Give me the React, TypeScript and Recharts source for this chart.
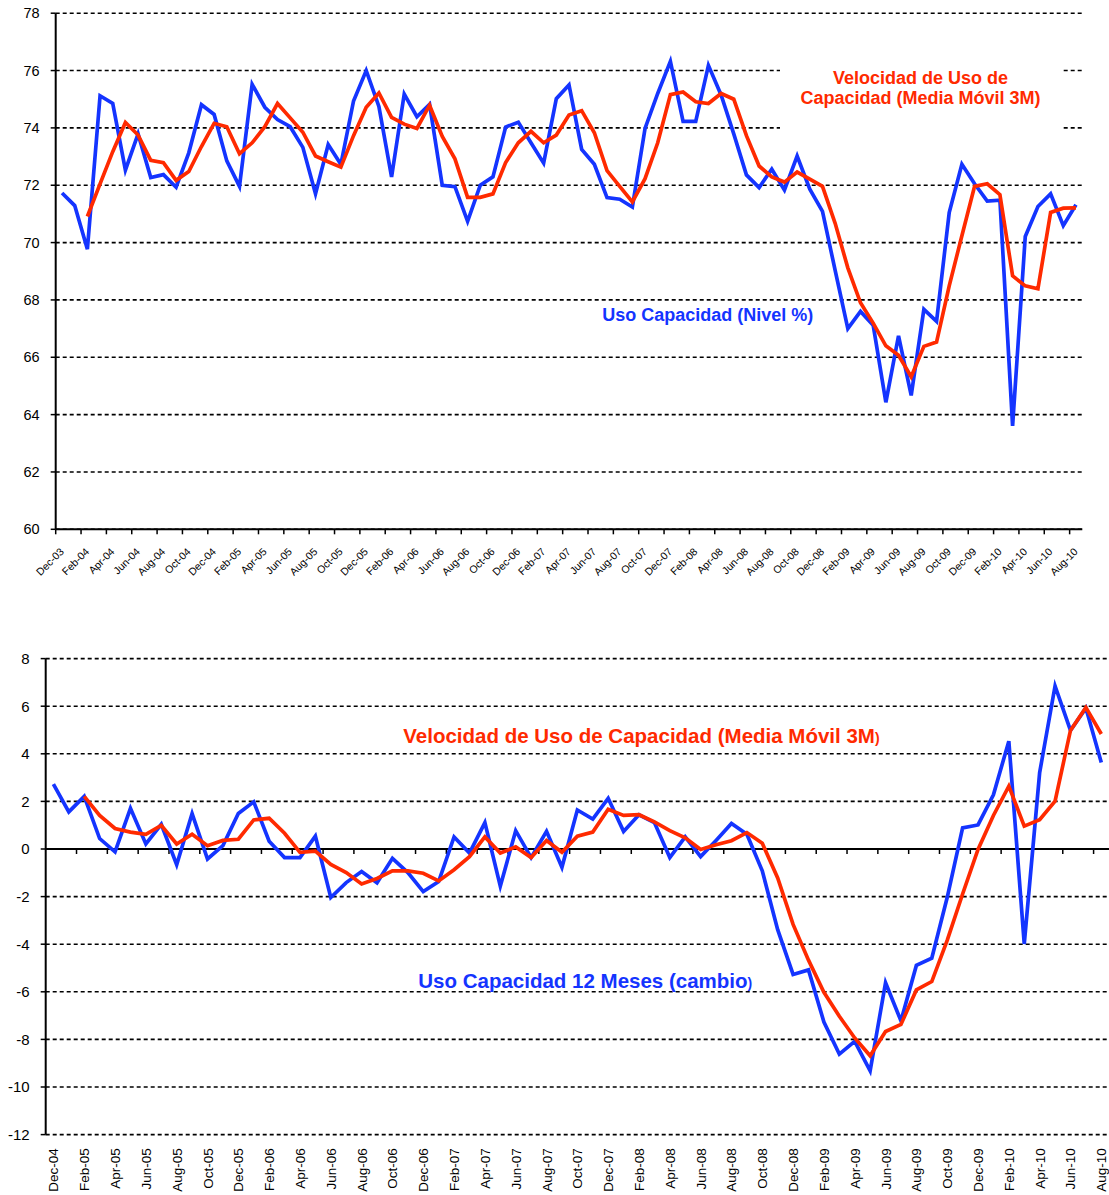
import React from 'react';
import { LineChart, Line, XAxis, YAxis, CartesianGrid, ReferenceLine } from 'recharts';

const FONT = '"Liberation Sans", Arial, Helvetica, sans-serif';
const BLUE = '#1434ff';
const RED = '#ff2a00';

// ---------- Data ----------
const topCategories = [
  'Dec-03',
  'Jan-04', 'Feb-04', 'Mar-04', 'Apr-04', 'May-04', 'Jun-04', 'Jul-04', 'Aug-04', 'Sep-04', 'Oct-04', 'Nov-04', 'Dec-04',
  'Jan-05', 'Feb-05', 'Mar-05', 'Apr-05', 'May-05', 'Jun-05', 'Jul-05', 'Aug-05', 'Sep-05', 'Oct-05', 'Nov-05', 'Dec-05',
  'Jan-06', 'Feb-06', 'Mar-06', 'Apr-06', 'May-06', 'Jun-06', 'Jul-06', 'Aug-06', 'Sep-06', 'Oct-06', 'Nov-06', 'Dec-06',
  'Jan-07', 'Feb-07', 'Mar-07', 'Apr-07', 'May-07', 'Jun-07', 'Jul-07', 'Aug-07', 'Sep-07', 'Oct-07', 'Nov-07', 'Dec-07',
  'Jan-08', 'Feb-08', 'Mar-08', 'Apr-08', 'May-08', 'Jun-08', 'Jul-08', 'Aug-08', 'Sep-08', 'Oct-08', 'Nov-08', 'Dec-08',
  'Jan-09', 'Feb-09', 'Mar-09', 'Apr-09', 'May-09', 'Jun-09', 'Jul-09', 'Aug-09', 'Sep-09', 'Oct-09', 'Nov-09', 'Dec-09',
  'Jan-10', 'Feb-10', 'Mar-10', 'Apr-10', 'May-10', 'Jun-10', 'Jul-10', 'Aug-10',
];

// Uso Capacidad (Nivel %)
const topLevel = [
  71.73,
  71.29, 69.77, 75.12, 74.85, 72.53, 73.79, 72.27, 72.37, 71.93, 73.13, 74.81, 74.47,
  72.85, 71.96, 75.52, 74.72, 74.29, 74.04, 73.32, 71.70, 73.42, 72.73, 74.94, 76.00,
  74.75, 72.29, 75.18, 74.39, 74.82, 72.00, 71.95, 70.74, 72.00, 72.29, 74.03, 74.20,
  73.48, 72.77, 75.02, 75.50, 73.25, 72.73, 71.57, 71.51, 71.24, 73.98, 75.20, 76.32,
  74.23, 74.23, 76.18, 75.15, 73.79, 72.36, 71.92, 72.56, 71.83, 73.02, 71.86, 71.09,
  69.03, 67.00, 67.60, 67.12, 64.43, 66.75, 64.67, 67.67, 67.25, 71.05, 72.73, 72.05,
  71.45, 71.48, 63.61, 70.21, 71.26, 71.70, 70.59, 71.32,
];

// Velocidad de Uso de Capacidad (Media Móvil 3M)
const topMovingAvg = [
  null,
  null, 70.91, 72.05, 73.17, 74.19, 73.75, 72.87, 72.79, 72.17, 72.48, 73.35, 74.16,
  74.04, 73.10, 73.48, 74.04, 74.85, 74.35, 73.85, 73.02, 72.82, 72.63, 73.73, 74.72,
  75.22, 74.37, 74.13, 73.98, 74.79, 73.70, 72.92, 71.58, 71.58, 71.70, 72.79, 73.48,
  73.88, 73.48, 73.75, 74.45, 74.60, 73.83, 72.51, 71.96, 71.42, 72.23, 73.48, 75.16,
  75.25, 74.91, 74.85, 75.20, 75.00, 73.73, 72.67, 72.29, 72.11, 72.46, 72.21, 71.96,
  70.67, 69.12, 67.90, 67.19, 66.40, 66.07, 65.32, 66.38, 66.53, 68.49, 70.24, 71.96,
  72.05, 71.67, 68.84, 68.49, 68.39, 71.05, 71.20, 71.21,
];

const bottomCategories = topCategories.slice(12); // Dec-04 .. Aug-10

// Uso Capacidad 12 Meses (cambio)
const bottomChange = [
  2.73,
  1.56, 2.21, 0.44, -0.12, 1.71, 0.21, 1.04, -0.66, 1.49, -0.42, 0.14, 1.49,
  1.98, 0.33, -0.36, -0.36, 0.54, -2.04, -1.41, -0.95, -1.42, -0.39, -0.99, -1.79,
  -1.37, 0.51, -0.17, 1.11, -1.56, 0.77, -0.36, 0.74, -0.77, 1.64, 1.26, 2.13,
  0.74, 1.44, 1.11, -0.36, 0.51, -0.32, 0.36, 1.07, 0.62, -0.92, -3.39, -5.27,
  -5.08, -7.27, -8.62, -8.08, -9.32, -5.62, -7.22, -4.89, -4.59, -2.04, 0.89, 1.01,
  2.28, 4.53, -3.99, 3.21, 6.85, 4.98, 5.92, 3.63,
];

// Velocidad (Media Móvil 3M) del cambio a 12 meses
const bottomMovingAvg = [
  null,
  null, 2.21, 1.41, 0.86, 0.71, 0.62, 0.99, 0.21, 0.62, 0.14, 0.36, 0.41,
  1.22, 1.29, 0.66, -0.14, -0.09, -0.65, -0.99, -1.47, -1.24, -0.92, -0.92, -1.02,
  -1.34, -0.87, -0.32, 0.51, -0.17, 0.09, -0.36, 0.36, -0.14, 0.54, 0.71, 1.67,
  1.41, 1.44, 1.14, 0.77, 0.47, -0.02, 0.18, 0.35, 0.69, 0.24, -1.22, -3.17,
  -4.67, -6.02, -7.03, -7.94, -8.69, -7.67, -7.37, -5.92, -5.57, -3.84, -1.89, -0.02,
  1.41, 2.64, 0.96, 1.23, 2.01, 4.98, 5.95, 4.83,
];

const topYTicks = [60, 62, 64, 66, 68, 70, 72, 74, 76, 78];
const bottomYTicks = [-12, -10, -8, -6, -4, -2, 0, 2, 4, 6, 8];

// ---------- Layout ----------
const W = 1109;
const TOP_H = 600;
const TOP_MARGIN = { top: 13.2, right: 26.7, bottom: 0, left: 0 };
const TOP_YAXIS_W = 55.7;
const TOP_XAXIS_H = 70.7;
const TOP_PLOT_W = W - TOP_MARGIN.left - TOP_MARGIN.right - TOP_YAXIS_W;

const BOT_TOP = 620;
const BOT_H = 575;
const BOT_MARGIN = { top: 38.6, right: 0, bottom: 0, left: 0 };
const BOT_YAXIS_W = 45.7;
const BOT_XAXIS_H = 60.4;

const LINE_W = 3.7;
const GRID_W = 1.6;
const GRID_DASH = '4 3';

const topData = topCategories.map((c, i) => ({ i, cat: c, level: topLevel[i], ma: topMovingAvg[i] }));
const bottomData = bottomCategories.map((c, i) => ({ i, cat: c, change: bottomChange[i], ma: bottomMovingAvg[i] }));

const topXTicks = topCategories.map((_, i) => i).filter((i) => i % 2 === 0);
const bottomXTicks = bottomCategories.map((_, i) => i).filter((i) => i % 2 === 0);

const TopTick = (props: any) => {
  const { x, y, payload } = props;
  const half = TOP_PLOT_W / topCategories.length / 2;
  const label = topCategories[payload.value];
  const ax = x + 2.5;
  const ay = y + 23;
  return (
    <g>
      <line x1={x - half} x2={x - half} y1={y} y2={y + 5} stroke="#000" strokeWidth={1.5} />
      <text
        x={ax}
        y={ay}
        transform={`rotate(-45, ${ax}, ${ay})`}
        textAnchor="end"
        fontSize={10.5}
        fontFamily={FONT}
        fill="#000"
      >
        {label}
      </text>
    </g>
  );
};

const BottomTick = (props: any) => {
  const { x, y, payload } = props;
  const label = bottomCategories[payload.value];
  const ax = x + 5;
  const ay = y + 13.7;
  return (
    <text
      x={ax}
      y={ay}
      transform={`rotate(-90, ${ax}, ${ay})`}
      textAnchor="end"
      fontSize={13.5}
      fontFamily={FONT}
      fill="#000"
    >
      {label}
    </text>
  );
};

const ZeroAxis = (props: any) => {
  const { x1, x2, y1 } = props;
  const n = bottomCategories.length;
  const step = (x2 - x1) / n;
  const marks = bottomCategories.map((_, i) => i).filter((i) => i > 0 && i % 2 === 0);
  return (
    <g>
      <line x1={x1} x2={x2} y1={y1} y2={y1} stroke="#000" strokeWidth={2} />
      {marks.map((k) => (
        <line key={k} x1={x1 + k * step} x2={x1 + k * step} y1={y1} y2={y1 + 5} stroke="#000" strokeWidth={1.5} />
      ))}
    </g>
  );
};

export default function App() {
  return (
    <div
      style={{
        position: 'absolute',
        left: 0,
        top: 0,
        width: W,
        height: 1195,
        background: '#fff',
        fontFamily: FONT,
        overflow: 'hidden',
      }}
    >
      <div style={{ position: 'absolute', left: 0, top: 0 }}>
        <LineChart width={W} height={TOP_H} data={topData} margin={TOP_MARGIN}>
          <CartesianGrid horizontal vertical={false} stroke="#000" strokeWidth={GRID_W} strokeDasharray={GRID_DASH} />
          <XAxis
            dataKey="i"
            type="number"
            domain={[-0.5, topCategories.length - 0.5]}
            ticks={topXTicks}
            interval={0}
            height={TOP_XAXIS_H}
            tickSize={0}
            tickMargin={0}
            tickLine={false}
            axisLine={{ stroke: '#000', strokeWidth: 2 }}
            tick={TopTick}
            allowDataOverflow
          />
          <YAxis
            type="number"
            domain={[60, 78]}
            ticks={topYTicks}
            interval={0}
            width={TOP_YAXIS_W}
            tickSize={5}
            tickMargin={11}
            axisLine={{ stroke: '#000', strokeWidth: 2 }}
            tickLine={{ stroke: '#000', strokeWidth: 1.5 }}
            tick={{ fill: '#000', fontSize: 14.5, fontFamily: FONT }}
            allowDataOverflow
          />
          <Line
            type="linear"
            dataKey="level"
            stroke={BLUE}
            strokeWidth={LINE_W}
            dot={false}
            activeDot={false}
            isAnimationActive={false}
          />
          <Line
            type="linear"
            dataKey="ma"
            stroke={RED}
            strokeWidth={LINE_W}
            dot={false}
            activeDot={false}
            isAnimationActive={false}
          />
        </LineChart>
      </div>

      <div style={{ position: 'absolute', left: 0, top: BOT_TOP }}>
        <LineChart width={W} height={BOT_H} data={bottomData} margin={BOT_MARGIN}>
          <CartesianGrid horizontal vertical={false} stroke="#000" strokeWidth={GRID_W} strokeDasharray={GRID_DASH} />
          <XAxis
            dataKey="i"
            type="number"
            domain={[-0.5, bottomCategories.length - 0.5]}
            ticks={bottomXTicks}
            interval={0}
            height={BOT_XAXIS_H}
            tickSize={0}
            tickMargin={0}
            tickLine={false}
            axisLine={false}
            tick={BottomTick}
            allowDataOverflow
          />
          <YAxis
            type="number"
            domain={[-12, 8]}
            ticks={bottomYTicks}
            interval={0}
            width={BOT_YAXIS_W}
            tickSize={5}
            tickMargin={11}
            axisLine={{ stroke: '#000', strokeWidth: 2 }}
            tickLine={{ stroke: '#000', strokeWidth: 1.5 }}
            tick={{ fill: '#000', fontSize: 15, fontFamily: FONT }}
            allowDataOverflow
          />
          <ReferenceLine y={0} shape={ZeroAxis} />
          <Line
            type="linear"
            dataKey="change"
            stroke={BLUE}
            strokeWidth={LINE_W}
            dot={false}
            activeDot={false}
            isAnimationActive={false}
          />
          <Line
            type="linear"
            dataKey="ma"
            stroke={RED}
            strokeWidth={LINE_W}
            dot={false}
            activeDot={false}
            isAnimationActive={false}
          />
        </LineChart>
      </div>

      <svg
        width={W}
        height={1195}
        style={{ position: 'absolute', left: 0, top: 0, pointerEvents: 'none' }}
      >
        <rect x={780} y={40} width={281} height={105} fill="#fff" />
        <text x={920.6} y={83.6} textAnchor="middle" fontSize={18} fontWeight="bold" fontFamily={FONT} fill={RED}>
          Velocidad de Uso de
        </text>
        <text x={920.6} y={104.3} textAnchor="middle" fontSize={18} fontWeight="bold" fontFamily={FONT} fill={RED}>
          Capacidad (Media Móvil 3M)
        </text>
        <text x={602.3} y={321.4} textAnchor="start" fontSize={18} fontWeight="bold" fontFamily={FONT} fill={BLUE}>
          Uso Capacidad (Nivel %)
        </text>
        <text x={403.3} y={743.3} textAnchor="start" fontSize={20.5} fontWeight="bold" fontFamily={FONT} fill={RED}>
          Velocidad de Uso de Capacidad (Media Móvil 3M<tspan fontSize={14}>)</tspan>
        </text>
        <text x={418.3} y={988} textAnchor="start" fontSize={20.5} fontWeight="bold" fontFamily={FONT} fill={BLUE}>
          Uso Capacidad 12 Meses (cambio<tspan fontSize={14}>)</tspan>
        </text>
      </svg>
    </div>
  );
}
